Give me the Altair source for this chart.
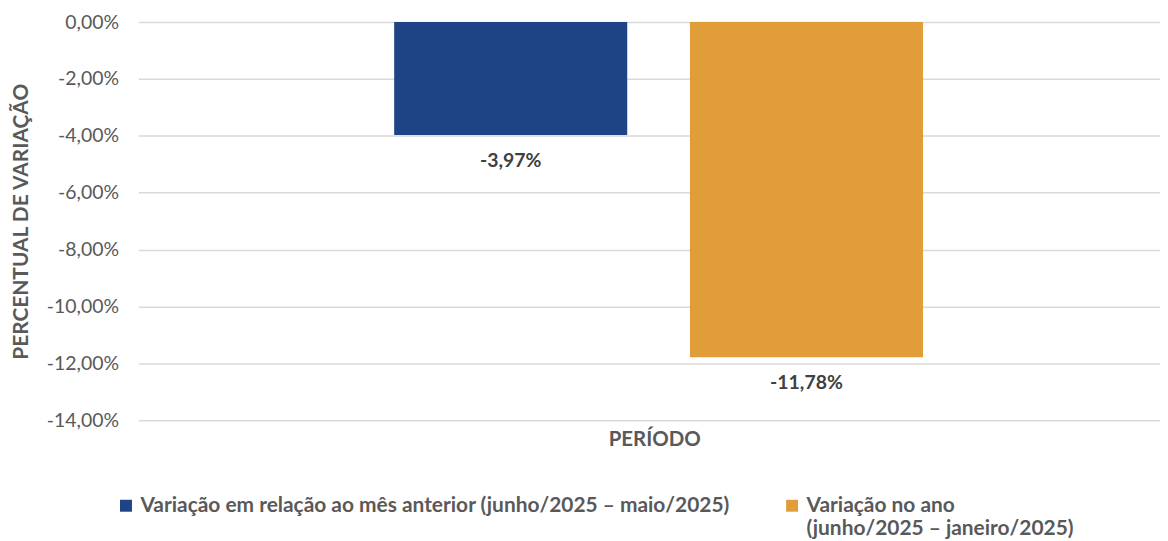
import altair as alt
import pandas as pd

series = [
    "Variação em relação ao mês anterior (junho/2025 – maio/2025)",
    "Variação no ano (junho/2025 – janeiro/2025)",
]
values = [-3.97, -11.78]
labels = ["-3,97%", "-11,78%"]
colors = ["#1F4485", "#E29D3B"]
y_ticks = [0, -2, -4, -6, -8, -10, -12, -14]

df = pd.DataFrame({"serie": series, "valor": values, "rotulo": labels})

FONT = "Lato"
GRAY = "#595959"

x = alt.X(
    "serie:N",
    sort=series,
    scale=alt.Scale(paddingInner=0.212, paddingOuter=0.833, align=0.519),
    axis=alt.Axis(
        title="PERÍODO", labels=False, ticks=False, domain=False,
        titleFont=FONT, titleFontSize=20.5, titleFontWeight="bold",
        titleColor=GRAY, titlePadding=9, titleX=518, titleAlign="center",
    ),
)
y = alt.Y(
    "valor:Q",
    scale=alt.Scale(domain=[-14, 0], nice=False),
    axis=alt.Axis(
        values=y_ticks,
        labelExpr="replace(replace(format(datum.value, '.2f'), '.', ','), '\u2212', '-') + '%'",
        title="PERCENTUAL DE VARIAÇÃO", titleFont=FONT, titleFontSize=21,
        titleFontWeight="bold", titleColor=GRAY, titleX=-117, titleY=200,
        titleAngle=-90, titleAlign="center", titleBaseline="middle",
        labelFont=FONT, labelFontSize=19.5, labelColor=GRAY, labelPadding=20,
        ticks=False, domain=False, gridColor="#D9D9D9", gridWidth=1.5,
    ),
)

legend_expr = (
    "datum.label == 'Variação no ano (junho/2025 – janeiro/2025)' ? "
    "['Variação no ano', '(junho/2025 – janeiro/2025)', '\u00a0'] : "
    "[datum.label, '\u00a0', '\u00a0']"
)

color = alt.Color(
    "serie:N",
    sort=series,
    scale=alt.Scale(domain=series, range=colors),
    legend=alt.Legend(
        title=None, orient="none", legendX=-23, legendY=475,
        direction="horizontal", columns=2, columnPadding=51,
        symbolType="square", symbolSize=144, symbolStrokeWidth=0,
        labelFont=FONT, labelFontSize=21, labelFontWeight="bold",
        labelColor=GRAY, labelLimit=1000,
        labelExpr=legend_expr, labelOffset=4,
    ),
)

base = alt.Chart(df)
bars = base.mark_bar().encode(x=x, y=y, color=color)
text = base.mark_text(
    dy=26, font=FONT, fontSize=19.5, fontWeight="bold", color="#404040", baseline="middle"
).encode(x=alt.X("serie:N", sort=series), y="valor:Q", text="rotulo:N")

chart = (
    alt.layer(bars, text)
    .properties(
        width=1026, height=400,
        autosize=alt.AutoSizeParams(type="none"),
        padding={"left": 131, "top": 13, "right": 0, "bottom": 120},
    )
    .configure_view(stroke=None)
)

chart.save("out.html", embed_options={"renderer": "svg", "actions": False})
